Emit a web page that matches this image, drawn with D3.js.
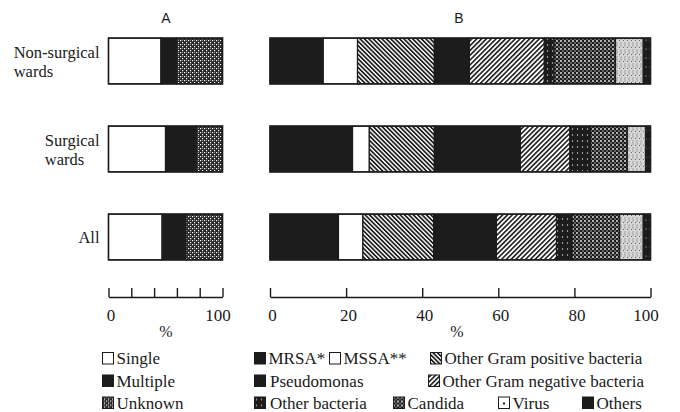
<!DOCTYPE html>
<html>
<head>
<meta charset="utf-8">
<script src="https://cdn.jsdelivr.net/npm/d3@7"></script>
<style>
  body { margin: 0; background: #fff; }
  text { font-family: "Liberation Serif", "Times New Roman", serif; fill: #1a1a1a; }
  .axis path, .axis line { stroke: #1a1a1a; stroke-width: 1.4; }
  .axis text { font-size: 17px; font-family: "Liberation Serif", serif; fill: #1a1a1a; }
</style>
</head>
<body>
<div id="chart"></div>
<script>
// wards (rows)
var wards = ['Non-surgical wards', 'Surgical wards', 'All'];
var wardLines = [['Non-surgical', 'wards'], ['Surgical', 'wards'], ['All']];

// panel A: single / multiple / unknown infection (%)
var keysA = ['Single', 'Multiple', 'Unknown'];
var single = [46, 50, 47];
var multiple = [14, 27, 21];
var unknown = [40, 23, 32];

// panel B: pathogen (%)
var keysB = ['MRSA*', 'MSSA**', 'Other Gram positive bacteria', 'Pseudomonas',
    'Other Gram negative bacteria', 'Other bacteria', 'Candida', 'Virus', 'Others'];
var mrsa = [14, 21.7, 18];
var mssa = [9, 4.4, 6.4];
var otherGramPos = [20.2, 17.1, 18.6];
var pseudomonas = [9.2, 22.6, 16.5];
var otherGramNeg = [19.7, 13, 15.8];
var otherBacteria = [2.5, 5.4, 4.1];
var candida = [16.2, 9.7, 12.5];
var virus = [7.3, 4.8, 6.2];
var others = [1.9, 1.3, 1.9];

var ticksA = [0, 20, 40, 60, 80, 100];
var tickLabelsA = ['0', '', '', '', '', '100'];
var ticksB = [0, 20, 40, 60, 80, 100];

var width = 680, height = 412;

var svg = d3.select('#chart')
    .append('svg')
    .attr('width', width)
    .attr('height', height);

// fill patterns
var defs = svg.append('defs');
var ink = '#1c1c1c';

function pattern(id, w, h, rot) {
    var p = defs.append('pattern')
        .attr('id', id)
        .attr('patternUnits', 'userSpaceOnUse')
        .attr('width', w)
        .attr('height', h);
    if (rot) p.attr('patternTransform', 'rotate(' + rot + ')');
    return p;
}

var pu = pattern('unknown', 4, 4);
pu.append('rect').attr('width', 4).attr('height', 4).attr('fill', '#262626');
pu.append('rect').attr('x', 0).attr('y', 0).attr('width', 1.2).attr('height', 1.2).attr('fill', '#fff');
pu.append('rect').attr('x', 2).attr('y', 2).attr('width', 1.2).attr('height', 1.2).attr('fill', '#fff');
pu.append('rect').attr('x', 2).attr('y', 0).attr('width', 1).attr('height', 1).attr('fill', '#888');

var pg = pattern('gpos', 3.1, 3.1, -45);
pg.append('rect').attr('width', 3.1).attr('height', 3.1).attr('fill', '#fff');
pg.append('line').attr('x1', 0.8).attr('x2', 0.8).attr('y1', 0).attr('y2', 3.1)
    .attr('stroke', ink).attr('stroke-width', 1.8);

var pn = pattern('gneg', 3.4, 3.4, 45);
pn.append('rect').attr('width', 3.4).attr('height', 3.4).attr('fill', '#fff');
pn.append('line').attr('x1', 0.8).attr('x2', 0.8).attr('y1', 0).attr('y2', 3.4)
    .attr('stroke', ink).attr('stroke-width', 1.6);

var pb = pattern('obact', 5, 6);
pb.append('rect').attr('width', 5).attr('height', 6).attr('fill', ink);
pb.append('circle').attr('cx', 2.5).attr('cy', 3).attr('r', 0.7).attr('fill', '#ddd');

var pc = pattern('candida', 4, 4);
pc.append('rect').attr('width', 4).attr('height', 4).attr('fill', ink);
pc.append('circle').attr('cx', 1).attr('cy', 1).attr('r', 0.95).attr('fill', '#eee');
pc.append('circle').attr('cx', 3).attr('cy', 3).attr('r', 0.8).attr('fill', '#bbb');

var pv = pattern('virus', 4, 7);
pv.append('rect').attr('width', 4).attr('height', 7).attr('fill', '#d6d6d6');
pv.append('line').attr('x1', 1).attr('x2', 1).attr('y1', 0).attr('y2', 5)
    .attr('stroke', '#8a8a8a').attr('stroke-width', 0.7);
pv.append('rect').attr('x', 3).attr('y', 5).attr('width', 1).attr('height', 1).attr('fill', '#666');

var po = pattern('others', 4, 9);
po.append('rect').attr('width', 4).attr('height', 9).attr('fill', ink);
po.append('circle').attr('cx', 2).attr('cy', 4).attr('r', 0.6).attr('fill', '#ccc');

var fillA = {
    'Single': '#fff',
    'Multiple': ink,
    'Unknown': 'url(#unknown)'
};
var fillB = {
    'MRSA*': ink,
    'MSSA**': '#fff',
    'Other Gram positive bacteria': 'url(#gpos)',
    'Pseudomonas': ink,
    'Other Gram negative bacteria': 'url(#gneg)',
    'Other bacteria': 'url(#obact)',
    'Candida': 'url(#candida)',
    'Virus': 'url(#virus)',
    'Others': 'url(#others)'
};

// scales
var y_scale = d3.scaleBand()
    .domain(wards)
    .range([17, 281])
    .paddingInner(0.48)
    .paddingOuter(0.24);

var xA = d3.scaleLinear().domain([0, 100]).range([108.5, 222.5]);
var xB = d3.scaleLinear().domain([0, 100]).range([270, 650.5]);

// build tables
var tableA = wards.map(function (w, i) {
    return { ward: w, 'Single': single[i], 'Multiple': multiple[i], 'Unknown': unknown[i] };
});
var seriesB = [mrsa, mssa, otherGramPos, pseudomonas, otherGramNeg, otherBacteria, candida, virus, others];
var tableB = wards.map(function (w, i) {
    var row = { ward: w };
    keysB.forEach(function (k, j) { row[k] = seriesB[j][i]; });
    return row;
});

function drawStack(table, keys, x, fills) {
    var stacked = d3.stack().keys(keys)(table);
    var g = svg.append('g');
    g.selectAll('g')
        .data(stacked)
        .enter()
        .append('g')
        .attr('fill', function (d) { return fills[d.key]; })
        .selectAll('rect')
        .data(function (d) { return d; })
        .enter()
        .append('rect')
        .attr('x', function (d) { return x(d[0]); })
        .attr('width', function (d) { return x(d[1]) - x(d[0]); })
        .attr('y', function (d) { return y_scale(d.data.ward); })
        .attr('height', y_scale.bandwidth())
        .attr('stroke', ink)
        .attr('stroke-width', 1.2);
    // outer frame
    g.selectAll('.frame')
        .data(table)
        .enter()
        .append('rect')
        .attr('class', 'frame')
        .attr('x', x(0))
        .attr('width', x(100) - x(0))
        .attr('y', function (d) { return y_scale(d.ward); })
        .attr('height', y_scale.bandwidth())
        .attr('fill', 'none')
        .attr('stroke', ink)
        .attr('stroke-width', 1.5);
}

drawStack(tableA, keysA, xA, fillA);
drawStack(tableB, keysB, xB, fillB);

// row labels: block right-aligned, lines left-aligned
wards.forEach(function (w, i) {
    var cy = y_scale(w) + y_scale.bandwidth() / 2;
    var lines = wardLines[i];
    var texts = lines.map(function (l, j) {
        return svg.append('text')
            .style('font-size', '16.5px')
            .attr('x', 0)
            .attr('y', lines.length > 1 ? cy - 3 + j * 18.5 : cy + 6)
            .text(l);
    });
    var bw = d3.max(texts, function (t) { return t.node().getComputedTextLength(); });
    texts.forEach(function (t) { t.attr('x', 99.5 - bw); });
});

// axes
var axisY = 297;
var x_axisA = d3.axisBottom(xA)
    .tickValues(ticksA)
    .tickFormat(function (d, i) { return tickLabelsA[i]; })
    .tickSizeInner(-9)
    .tickSizeOuter(0)
    .tickPadding(12);
var x_axisB = d3.axisBottom(xB)
    .tickValues(ticksB)
    .tickFormat(d3.format('d'))
    .tickSizeInner(-9)
    .tickSizeOuter(0)
    .tickPadding(12);

var gA = svg.append('g').attr('class', 'axis')
    .attr('transform', 'translate(0,' + axisY + ')')
    .call(x_axisA);
var gB = svg.append('g').attr('class', 'axis')
    .attr('transform', 'translate(0,' + axisY + ')')
    .call(x_axisB);
[gA, gB].forEach(function (g) {
    g.selectAll('.tick text').attr('dx', function (d) { return d === 100 ? -5 : 2; });
});

svg.append('text').attr('x', 166).attr('y', 337).attr('text-anchor', 'middle')
    .style('font-size', '16px').text('%');
svg.append('text').attr('x', 457).attr('y', 337).attr('text-anchor', 'middle')
    .style('font-size', '16px').text('%');

// panel titles
svg.append('text').attr('x', 166).attr('y', 22.5).attr('text-anchor', 'middle')
    .style('font-family', '"Liberation Sans", Arial, sans-serif').style('font-size', '14px').text('A');
svg.append('text').attr('x', 459).attr('y', 22.5).attr('text-anchor', 'middle')
    .style('font-family', '"Liberation Sans", Arial, sans-serif').style('font-size', '14px').text('B');

// legend
var legendLayout = [
    { key: 'Single', fill: fillA['Single'], x: 102, row: 0 },
    { key: 'Multiple', fill: fillA['Multiple'], x: 102, row: 1 },
    { key: 'Unknown', fill: fillA['Unknown'], x: 102, row: 2 },
    { key: 'MRSA*', fill: fillB['MRSA*'], x: 254, row: 0 },
    { key: 'MSSA**', fill: fillB['MSSA**'], x: 329, row: 0 },
    { key: 'Other Gram positive bacteria', fill: fillB['Other Gram positive bacteria'], x: 430, row: 0 },
    { key: 'Pseudomonas', fill: fillB['Pseudomonas'], x: 254, row: 1 },
    { key: 'Other Gram negative bacteria', fill: fillB['Other Gram negative bacteria'], x: 428, row: 1 },
    { key: 'Other bacteria', fill: fillB['Other bacteria'], x: 254, row: 2 },
    { key: 'Candida', fill: fillB['Candida'], x: 393, row: 2 },
    { key: 'Virus', fill: '#fff', x: 498, row: 2 },
    { key: 'Others', fill: ink, x: 582, row: 2 }
];
var baselines = [364, 386.5, 408.5];

var leg = svg.append('g').selectAll('g')
    .data(legendLayout)
    .enter()
    .append('g')
    .attr('transform', function (d) { return 'translate(' + d.x + ',' + baselines[d.row] + ')'; });
leg.append('rect')
    .attr('x', 0.5).attr('y', -11.5)
    .attr('width', 11).attr('height', 11.5)
    .attr('fill', function (d) { return d.fill; })
    .attr('stroke', ink)
    .attr('stroke-width', 1);
leg.filter(function (d) { return d.key === 'Virus'; })
    .append('rect')
    .attr('x', 5).attr('y', -6).attr('width', 2).attr('height', 2).attr('fill', ink);
leg.append('text')
    .attr('x', function (d) { return d.key === 'Pseudomonas' || d.key === 'Other bacteria' ? 16 : 14.5; })
    .attr('y', 0)
    .style('font-size', '17px')
    .text(function (d) { return d.key; });
</script>
</body>
</html>
